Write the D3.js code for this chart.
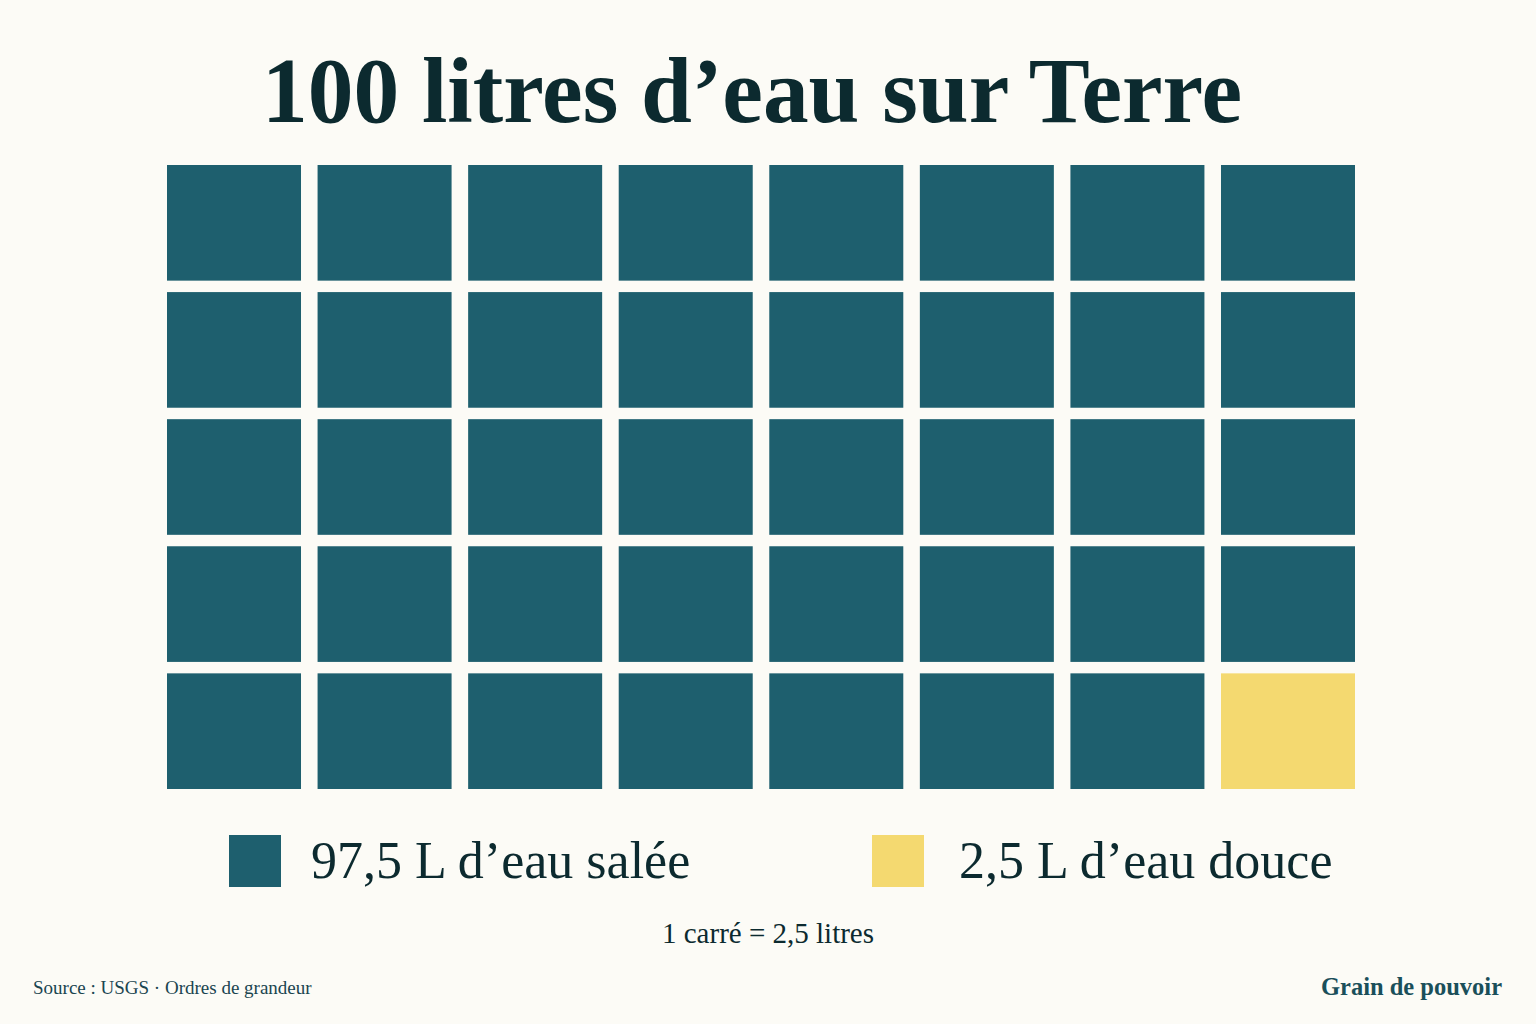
<!DOCTYPE html>
<html>
<head>
<meta charset="utf-8">
<script src="https://cdn.jsdelivr.net/npm/d3@7"></script>
<style>
  body { margin: 0; background: #fcfbf6; }
  svg { display: block; }
  text { font-family: "Liberation Serif", "DejaVu Serif", serif; }
</style>
</head>
<body>
<div id="chart"></div>
<script>
// data
const categories = ["97,5 L d\u2019eau salée", "2,5 L d\u2019eau douce"];
const litres = [97.5, 2.5];
const litresPerSquare = 2.5;
const nCols = 8, nRows = 5;
const colors = ["#1e5f6e", "#f4d970"];

const width = 1536, height = 1024;

const svg = d3.select("#chart")
  .append("svg")
  .attr("width", width)
  .attr("height", height);

svg.append("rect")
  .attr("width", width)
  .attr("height", height)
  .attr("fill", "#fcfbf6");

// title
svg.append("text")
  .attr("x", 752)
  .attr("y", 122)
  .attr("text-anchor", "middle")
  .attr("textLength", 980)
  .attr("lengthAdjust", "spacingAndGlyphs")
  .style("font-size", "94px")
  .style("font-weight", "bold")
  .style("fill", "#0c2a2f")
  .text("100 litres d\u2019eau sur Terre");

// build squares from values
let cells = [];
litres.forEach((v, i) => {
  let n = Math.round(v / litresPerSquare);
  for (let k = 0; k < n; k++) cells.push({ cat: i });
});
cells.forEach((d, i) => {
  d.col = i % nCols;
  d.row = Math.floor(i / nCols);
});

var x = d3.scaleBand()
  .domain(d3.range(nCols))
  .range([167, 1355])
  .paddingInner(0.11);

var y = d3.scaleBand()
  .domain(d3.range(nRows))
  .range([165, 789])
  .paddingInner(0.09);

svg.selectAll(".cell")
  .data(cells)
  .enter()
  .append("rect")
  .attr("class", "cell")
  .attr("x", d => x(d.col))
  .attr("y", d => y(d.row))
  .attr("width", x.bandwidth())
  .attr("height", y.bandwidth())
  .style("fill", d => colors[d.cat]);

// legend
var legendX = [229, 872];
var legend = svg.selectAll(".legend")
  .data(categories)
  .enter()
  .append("g")
  .attr("class", "legend")
  .attr("transform", (d, i) => "translate(" + legendX[i] + ",835)");

legend.append("rect")
  .attr("width", 52)
  .attr("height", 52)
  .style("fill", (d, i) => colors[i]);

legend.append("text")
  .attr("x", (d, i) => i == 0 ? 82 : 87)
  .attr("y", 43)
  .style("font-size", "52px")
  .style("fill", "#0c2a2f")
  .text(d => d);

svg.append("text")
  .attr("x", 768)
  .attr("y", 943)
  .attr("text-anchor", "middle")
  .style("font-size", "29px")
  .style("fill", "#0c2a2f")
  .text("1 carré = " + String(litresPerSquare).replace(".", ",") + " litres");

svg.append("text")
  .attr("x", 33)
  .attr("y", 994)
  .style("font-size", "19px")
  .style("fill", "#1a4550")
  .text("Source : USGS \u00b7 Ordres de grandeur");

svg.append("text")
  .attr("x", 1502)
  .attr("y", 995)
  .attr("text-anchor", "end")
  .style("font-size", "24.5px")
  .style("font-weight", "bold")
  .style("fill", "#1a4f5a")
  .text("Grain de pouvoir");
</script>
</body>
</html>
